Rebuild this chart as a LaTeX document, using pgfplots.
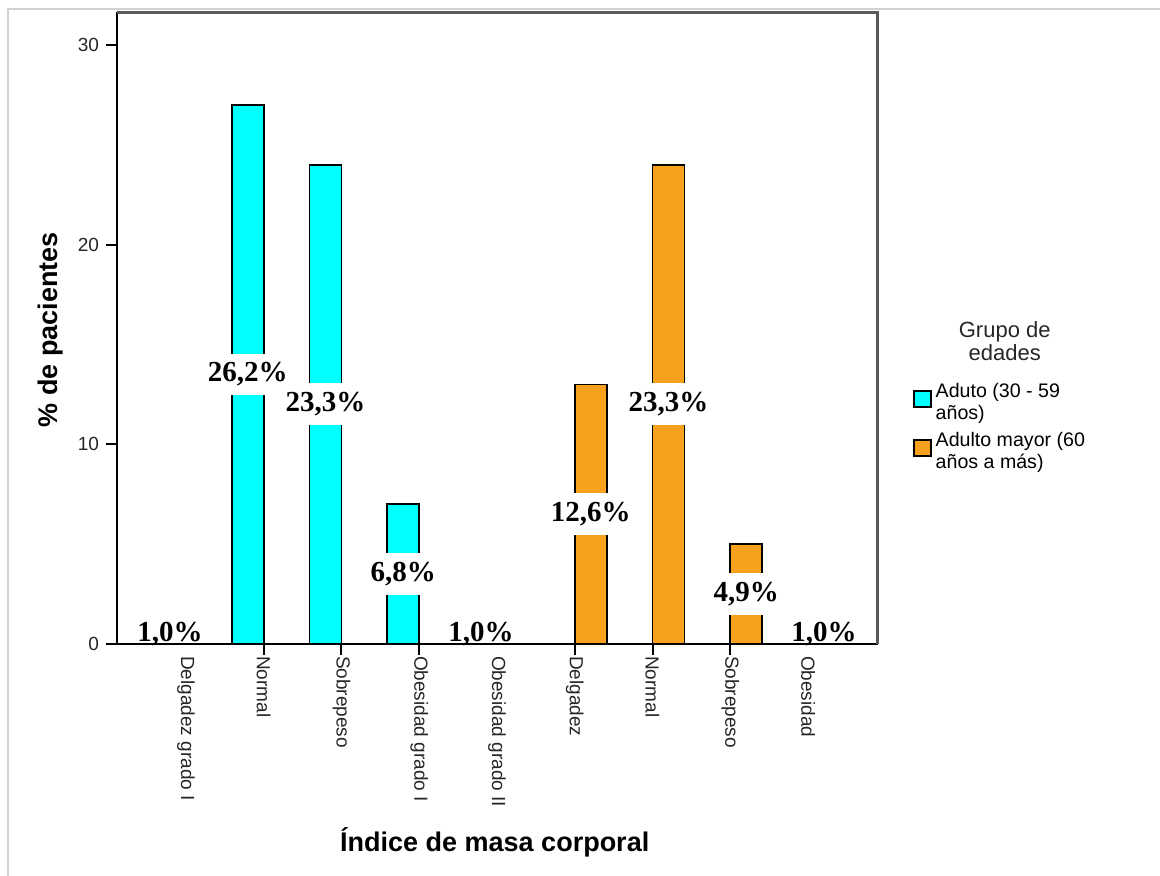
\documentclass[border=0pt]{standalone}
\usepackage{pgfplots}
\pgfplotsset{compat=1.18}
\usepackage{fontspec}
\setmainfont{Liberation Sans}
\newfontfamily\labfont{Liberation Serif}
\definecolor{cyanbar}{RGB}{0,255,255}
\definecolor{orangebar}{RGB}{248,161,28}
\pgfplotsset{sqlegend/.style={legend image code/.code={\draw[##1, line width=0.8pt] (0pt,-2pt) rectangle (8.5pt,6pt);}}}
\begin{document}
\begin{tikzpicture}
\path[use as bounding box] (0,0) rectangle (580pt,438pt);
\draw[black!18, line width=1pt] (4pt,0) -- (4pt,433.5pt) -- (580pt,433.5pt);
\begin{axis}[
  at={(58.5pt,116pt)}, anchor=south west, scale only axis,
  width=380pt, height=315.5pt,
  xmin=-0.887, xmax=8.887, ymin=0, ymax=31.6,
  ybar, bar width=16pt,
  axis on top, clip=false,
  xtick pos=bottom, ytick pos=left, xtick align=outside, ytick align=outside, major tick length=5.5pt,
  xtick style={black, line width=1pt},
  ytick style={black, line width=1pt},
  axis line style={black, line width=0.9pt},
  /pgf/number format/assume math mode=true,
  xtick={0,1,2,3,4,5,6,7,8},
  xticklabels={Delgadez grado I, Normal, Sobrepeso, Obesidad grado I, Obesidad grado II, Delgadez, Normal, Sobrepeso, Obesidad},
  xticklabel shift=-3pt,
  xticklabel style={rotate=-90, anchor=west, font=\fontsize{9.5}{9.5}\selectfont, text=black!85},
  ytick={0,10,20,30},
  yticklabel style={font=\fontsize{9.5}{9.5}\selectfont, text=black!85},
  xlabel={Índice de masa corporal},
  xlabel style={at={(axis description cs:0.497,-0.315)}, anchor=center, font=\bfseries\fontsize{13.5}{13.5}\selectfont},
  ylabel={\% de pacientes},
  ylabel style={at={(axis description cs:-0.088,0.498)}, anchor=center, font=\bfseries\fontsize{13.5}{13.5}\selectfont},
  legend style={at={(rel axis cs:1.047,0.42)}, anchor=north west, draw=none, fill=none,
    font=\fontsize{9.8}{11}\selectfont, cells={anchor=west, align=left}, row sep=1pt, inner sep=0pt,
    /tikz/every even column/.append style={column sep=3pt}},
  sqlegend,
  after end axis/.append code={
    \draw[black, line width=0.9pt] (rel axis cs:0,0) -- (rel axis cs:1,0);
    \draw[black!65, line width=1.5pt] (rel axis cs:0,1) -- (rel axis cs:1,1) -- (rel axis cs:1,0);
  },
]
\addplot[fill=cyanbar, draw=black, line width=0.8pt, bar shift=-8pt, sqlegend]
  coordinates {(0,1) (1,27) (2,24) (3,7) (4,1)};
\addlegendentry{Aduto (30 - 59\\años)}
\addplot[fill=orangebar, draw=black, line width=0.8pt, bar shift=8pt, sqlegend]
  coordinates {(5,13) (6,24) (7,5) (8,1)};
\addlegendentry{Adulto mayor (60\\años a más)}
\addplot[draw=none, fill=none, bar shift=-8pt, forget plot,
  nodes near coords, point meta=explicit symbolic,
  every node near coord/.append style={anchor=center, fill=white, text=black, draw=none,
    inner xsep=1pt, inner ysep=4.5pt, font=\labfont\bfseries\fontsize{14.5}{14.5}\selectfont}]
  coordinates {(0,0.5)[1,0\%] (1,13.5)[26,2\%] (2,12)[23,3\%] (3,3.5)[6,8\%] (4,0.5)[1,0\%]};
\addplot[draw=none, fill=none, bar shift=8pt, forget plot,
  nodes near coords, point meta=explicit symbolic,
  every node near coord/.append style={anchor=center, fill=white, text=black, draw=none,
    inner xsep=1pt, inner ysep=4.5pt, font=\labfont\bfseries\fontsize{14.5}{14.5}\selectfont}]
  coordinates {(5,6.5)[12,6\%] (6,12)[23,3\%] (7,2.5)[4,9\%] (8,0.5)[1,0\%]};
\node[align=center, font=\fontsize{11}{11.5}\selectfont, text=black!85] at (rel axis cs:1.168,0.48) {Grupo de\\edades};
\end{axis}
\end{tikzpicture}
\end{document}
